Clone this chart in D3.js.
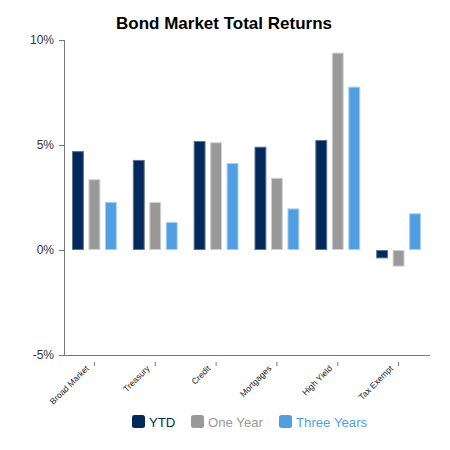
<!DOCTYPE html>
<html>
<head>
<meta charset="utf-8">
<script src="https://cdn.jsdelivr.net/npm/d3@7"></script>
<style>
  body { margin: 0; background: #fff; }
  svg { font-family: "Liberation Sans", Arial, sans-serif; }
</style>
</head>
<body>
<svg width="450" height="450"></svg>
<script>
// categories and series
const categories = ['Broad Market', 'Treasury', 'Credit', 'Mortgages', 'High Yield', 'Tax Exempt'];
const seriesNames = ['YTD', 'One Year', 'Three Years'];
const ytd = [4.71, 4.29, 5.19, 4.92, 5.24, -0.40];
const oneYear = [3.37, 2.29, 5.13, 3.44, 9.40, -0.79];
const threeYears = [2.29, 1.33, 4.14, 1.98, 7.78, 1.75];
const yTicks = [-5, 0, 5, 10];

const colors = ['#03285c', '#999999', '#519fe2'];
const strokes = ['#5d7394', '#d0d0d0', '#a9cff0'];
const seriesValues = [ytd, oneYear, threeYears];

const svg = d3.select('svg');

// table built from the arrays above
const rows = categories.map((c, i) => ({cat: c, vals: seriesValues.map((s, j) => ({name: seriesNames[j], v: s[i], j: j}))}));

const x = d3.scaleBand().domain(categories).range([64, 429]).paddingInner(0).paddingOuter(0);
const xInner = d3.scaleBand().domain(seriesNames).range([8, x.bandwidth() - 8]).paddingInner(0.28).paddingOuter(0);
const y = d3.scaleLinear().domain([-5, 10]).range([355, 40]);

// title
svg.append('text')
  .attr('x', 224).attr('y', 29)
  .attr('text-anchor', 'middle')
  .attr('font-size', 17).attr('font-weight', 'bold')
  .attr('fill', '#000')
  .text('Bond Market Total Returns');

// bars
const groups = svg.selectAll('.grp')
  .data(rows)
  .enter()
  .append('g')
  .attr('class', 'grp')
  .attr('transform', d => `translate(${x(d.cat)},0)`);

groups.selectAll('rect')
  .data(d => d.vals)
  .enter()
  .append('rect')
  .attr('x', d => xInner(d.name) + 0.5)
  .attr('width', xInner.bandwidth() - 1)
  .attr('y', d => Math.min(y(d.v), y(0)) + 0.5)
  .attr('height', d => Math.abs(y(d.v) - y(0)) - 1)
  .attr('fill', d => colors[d.j])
  .attr('stroke', d => strokes[d.j])
  .attr('stroke-width', 1);

// y axis
const yAxis = svg.append('g')
  .attr('transform', 'translate(64,0)')
  .call(d3.axisLeft(y).tickValues(yTicks).tickSize(5).tickPadding(5).tickFormat(d => d + '%'));
yAxis.select('.domain').attr('stroke', '#777').attr('d', `M0.5,${y(10)}V${y(-5)}`);
yAxis.selectAll('.tick line').attr('stroke', '#777');
yAxis.selectAll('.tick text').attr('font-size', 12).attr('fill', '#333')
  .attr('font-family', '"Liberation Sans", Arial, sans-serif');

// x axis (baseline at -5%)
const xAxis = svg.append('g')
  .attr('transform', `translate(0,${y(-5)})`)
  .call(d3.axisBottom(x).tickSize(0).tickPadding(0));
xAxis.select('.domain').attr('stroke', '#777').attr('d', `M64,0.5H430`);
xAxis.selectAll('.tick').append('line')
  .attr('y1', 7).attr('y2', 11).attr('stroke', '#777');
xAxis.selectAll('.tick text')
  .attr('font-size', 8.5).attr('fill', '#222')
  .attr('font-family', '"Liberation Sans", Arial, sans-serif')
  .attr('text-anchor', 'end')
  .attr('dy', 0)
  .attr('transform', 'translate(-5,14) rotate(-45)');

// legend
const legendX = [132, 191, 279];
const legend = svg.selectAll('.leg')
  .data(seriesNames)
  .enter()
  .append('g')
  .attr('class', 'leg')
  .attr('transform', (d, i) => `translate(${legendX[i]},415)`);
legend.append('rect')
  .attr('width', 13).attr('height', 13).attr('rx', 2.5)
  .attr('fill', (d, i) => colors[i]);
legend.append('text')
  .attr('x', 17).attr('y', 11.5)
  .attr('font-size', 13.2)
  .attr('fill', (d, i) => colors[i])
  .text(d => d);
</script>
</body>
</html>
